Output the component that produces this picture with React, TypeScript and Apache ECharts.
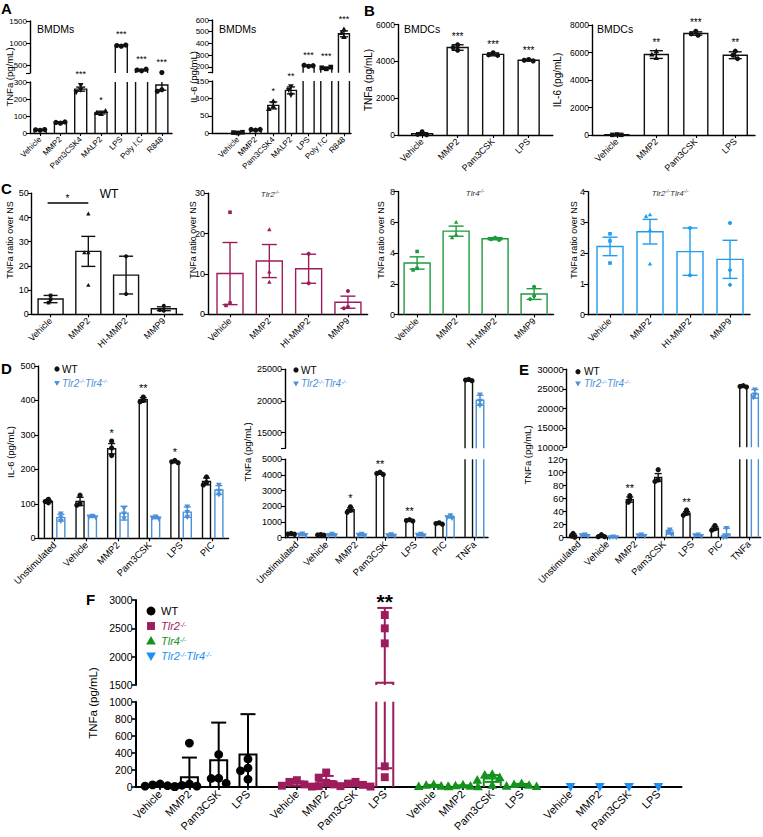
import React, { useEffect, useRef } from 'react';
import * as echarts from 'echarts';

const FONT = "'Liberation Sans', Arial, Helvetica, sans-serif";
const BLACK = '#111111';
const CRIMSON = '#9c1c5c';
const GREEN = '#1e9a3e';
const SKY = '#1f9cf0';
const DKO_BLUE = '#4b90d8';
const F_GREEN = '#14921e';
const F_BLUE = '#1c8ff5';

type Sym = 'circle' | 'square' | 'triangle' | 'down';

// ---------- Panel A ----------
const aCats = ['Vehicle', 'MMP2', 'Pam3CSK4', 'MALP2', 'LPS', 'Poly I:C', 'R848'];
const aTnfMean = [18, 62, 258, 120, 950, 400, 282];
const aTnfErr = [2, 4, 12, 8, 12, 15, 30];
const aTnfPts = [[16, 19, 20], [58, 62, 65], [282, 255, 240], [112, 118, 130], [935, 950, 962], [385, 402, 420], [345, 255, 245]];
const aTnfStars = ['', '', '***', '*', '***', '***', '***'];
const aTnfSyms: Sym[] = ['circle', 'circle', 'down', 'triangle', 'circle', 'circle', 'circle'];
const aTnfTicksLow = [0, 100, 200, 300];
const aTnfTicksHigh = [500, 1000, 1500];
const aIl6Mean = [2, 10, 80, 123, 210, 190, 482];
const aIl6Err = [0.5, 1.5, 10, 10, 4, 6, 25];
const aIl6Pts = [[1, 2, 3], [9, 11, 11], [92, 78, 70], [135, 125, 110], [205, 214, 210], [183, 192, 198], [520, 490, 455]];
const aIl6Stars = ['', '', '*', '**', '***', '***', '***'];
const aIl6Syms: Sym[] = ['square', 'circle', 'triangle', 'down', 'circle', 'square', 'triangle'];
const aIl6TicksLow = [0, 50, 100, 150];
const aIl6TicksHigh = [200, 300, 400, 500, 600];

// ---------- Panel B ----------
const bCats = ['Vehicle', 'MMP2', 'Pam3CSK', 'LPS'];
const bTnfMean = [70, 4750, 4380, 4060];
const bTnfErr = [55, 150, 80, 40];
const bTnfPts = [[180, 30, 10], [4900, 4750, 4600], [4470, 4350, 4320], [4100, 4060, 4020]];
const bTnfStars = ['', '***', '***', '***'];
const bTnfTicks = [0, 2000, 4000, 6000];
const bIl6Mean = [20, 5850, 7380, 5800];
const bIl6Err = [10, 280, 120, 250];
const bIl6Pts = [[40, 10, 10], [6100, 5850, 5600], [7550, 7350, 7250], [6100, 5800, 5550]];
const bIl6Stars = ['', '**', '***', '**'];
const bIl6Ticks = [0, 2000, 4000, 6000, 8000];

// ---------- Panel C ----------
const cCats = ['Vehicle', 'MMP2', 'HI-MMP2', 'MMP9'];
const cSyms: Sym[] = ['square', 'triangle', 'circle', 'circle'];
const cWtMean = [6.3, 26, 16.2, 2.3];
const cWtErr = [1.5, 6.2, 7.8, 0.8];
const cWtPts = [[7.8, 6.2, 4.8], [41.5, 25.5, 25.5, 12], [24, 8.4], [3.5, 1.5, 1.8]];
const cWtTicks = [0, 10, 20, 30, 40, 50];
const cTlr2Mean = [10.1, 13.2, 11.3, 3];
const cTlr2Err = [7.7, 4.1, 3.6, 1.5];
const cTlr2Pts = [[25.3, 2.8, 2.2], [21, 10.5, 8], [15, 7.7], [5.8, 1.8, 1.5]];
const cTlr2Ticks = [0, 10, 20, 30];
const cTlr4Mean = [3.35, 5.42, 4.93, 1.33];
const cTlr4Err = [0.4, 0.33, 0.07, 0.35];
const cTlr4Pts = [[4.1, 3.0, 2.9], [6.0, 5.2, 5.0], [5.0, 4.9, 4.85], [1.8, 1.2, 1.0]];
const cTlr4Ticks = [0, 2, 4, 6, 8];
const cDkoMean = [2.22, 2.7, 2.05, 1.8];
const cDkoErr = [0.3, 0.4, 0.77, 0.62];
const cDkoPts = [[2.63, 2.4, 1.68], [3.25, 3.2, 2.75, 1.65], [2.82, 1.28], [2.98, 1.45, 0.97]];
const cDkoTicks = [0, 1, 2, 3, 4];

// ---------- Panel D ----------
const dCats = ['Unstimulated', 'Vehicle', 'MMP2', 'Pam3CSK', 'LPS', 'PIC'];
const dIl6WtMean = [107, 107, 260, 402, 222, 165];
const dIl6WtErr = [3, 12, 15, 6, 3, 10];
const dIl6WtPts = [[113, 107, 103], [125, 100, 96], [282, 262, 240], [410, 400, 396], [226, 222, 219], [178, 162, 155]];
const dIl6WtStars = ['', '', '*', '**', '*', ''];
const dIl6DkoMean = [60, 63, 73, 60, 76, 140];
const dIl6DkoErr = [10, 2, 20, 3, 15, 13];
const dIl6DkoPts = [[72, 60, 50], [65, 63, 61], [88, 72, 58], [63, 60, 57], [92, 76, 62], [155, 138, 127]];
const dIl6Ticks = [0, 100, 200, 300, 400, 500];
const dTnfCats = ['Unstimulated', 'Vehicle', 'MMP2', 'Pam3CSK', 'LPS', 'PIC', 'TNFa'];
const dTnfWtMean = [240, 180, 1780, 4100, 1100, 900, 23300];
const dTnfWtErr = [30, 20, 120, 60, 30, 25, 100];
const dTnfWtPts = [[270, 230, 220], [200, 180, 160], [1970, 1750, 1620], [4180, 4100, 4030], [1150, 1090, 1060], [950, 900, 860], [23400, 23300, 23200]];
const dTnfWtStars = ['', '', '*', '**', '**', '', ''];
const dTnfDkoMean = [210, 190, 190, 160, 190, 1320, 20100];
const dTnfDkoErr = [50, 60, 60, 50, 60, 60, 800];
const dTnfDkoPts = [[260, 200, 160], [250, 170, 150], [240, 190, 140], [210, 150, 120], [240, 190, 140], [1420, 1300, 1250], [21000, 20000, 19300]];
const dTnfTicksLow = [0, 1000, 2000, 3000, 4000, 5000];
const dTnfTicksHigh = [15000, 20000, 25000];

// ---------- Panel E ----------
const eCats = ['Unstimulated', 'Vehicle', 'MMP2', 'Pam3CSK', 'LPS', 'PIC', 'TNFa'];
const eWtMean = [3, 2, 58, 92, 37, 14, 25600];
const eWtErr = [2, 1, 4, 6, 2.5, 2.5, 150];
const eWtPts = [[6, 2, 0], [4, 1, 1], [64, 58, 54], [104, 88, 86], [42, 37, 34], [18, 13, 11], [25800, 25600, 25450]];
const eWtStars = ['', '', '**', '', '**', '', ''];
const eDkoMean = [3, 0.5, 3, 8, 3, 5, 23700];
const eDkoErr = [1.5, 0.5, 1, 3, 1, 9, 1100];
const eDkoPts = [[4, 3, 2], [1, 0, 0], [4, 3, 2], [12, 8, 5], [4, 3, 2], [14, 1, 0], [24800, 23500, 22800]];
const eTicksLow = [0, 20, 40, 60, 80, 100, 120];
const eTicksHigh = [10000, 15000, 20000, 25000, 30000];

// ---------- Panel F ----------
const fCats = ['Vehicle', 'MMP2', 'Pam3CSK', 'LPS'];
const fWtMean = [20, 115, 315, 380];
const fWtErr = [15, 230, 440, 474];
const fWtPts = [[35, 25, 15, 10, 5], [515, 35, 20, 10, 5], [381, 103, 100, 44], [329, 222, 190, 91]];
const fTlr2Mean = [40, 70, 30, 1540];
const fTlr2Err = [25, 60, 20, 1320];
const fTlr2Pts = [[80, 60, 30, 15, 5], [170, 110, 50, 30, 10], [60, 40, 25, 10, 5], [2735, 2500, 2235, 242, 115]];
const fTlr2Stars = ['', '', '', '**'];
const fTlr4Mean = [15, 12, 100, 22];
const fTlr4Err = [10, 8, 40, 15];
const fTlr4Pts = [[30, 20, 10, 5, 2], [25, 15, 10, 5, 2], [150, 140, 110, 80, 20], [40, 30, 20, 10, 5]];
const fDkoMean = [4, 4, 4, 4];
const fDkoErr = [0, 0, 0, 0];
const fDkoPts = [[5], [5], [5], [5]];
const fTicksLow = [0, 200, 400, 600, 800, 1000];
const fTicksHigh = [1500, 2000, 2500, 3000];

// ---------- types / helpers ----------
interface Seg { min: number; max: number; top: number; height: number; ticks: number[]; labels: number[] }
interface Ser { color: string; means: (number | null)[]; errs: (number | null)[]; pts: (number[] | null)[]; sym: Sym | Sym[]; stars?: (string | null)[]; offset?: number; bar?: boolean }
interface Sig { from: number; to: number; y: number; label: string }
interface Panel {
  left: number; width: number; xMin: number; xMax: number; pos: number[]; labels: string[]; segs: Seg[]; series: Ser[];
  barW: number; capW: number; lw: number; ptR: number; swarmD: number; tickFont: number; xFont: number; starFont: number; starOff: number; starBold?: boolean; sig?: Sig;
}

const idx = (arr: any[]) => arr.map((_, i) => i);
const fLabels = [...fCats, ...fCats, ...fCats, ...fCats];
const fPos = fLabels.map((_, k) => Math.floor(k / 4) * 4.67 + (k % 4));
function place<T>(g: number, arr: T[]): (T | null)[] {
  return fLabels.map((_, k) => (Math.floor(k / 4) === g ? arr[k % 4] : null));
}

function swarm(ys: number[], d: number): number[] {
  const placed: [number, number][] = [];
  return ys.map((y) => {
    let best = 0;
    for (let k = 0; k < 30; k++) {
      const m = Math.ceil(k / 2) * d * 0.5 * (k % 2 ? -1 : 1);
      if (placed.every(([px, py]) => (px - m) ** 2 + (py - y) ** 2 >= d * d * 0.85)) { best = m; break; }
    }
    placed.push([best, y]);
    return best;
  });
}

function symEl(type: Sym, cx: number, cy: number, r: number, color: string): any {
  if (type === 'circle') return { type: 'circle', shape: { cx, cy, r }, style: { fill: color } };
  if (type === 'square') return { type: 'rect', shape: { x: cx - r * 0.9, y: cy - r * 0.9, width: r * 1.8, height: r * 1.8 }, style: { fill: color } };
  if (type === 'triangle') return { type: 'polygon', shape: { points: [[cx, cy - r * 1.15], [cx + r * 1.1, cy + r * 0.8], [cx - r * 1.1, cy + r * 0.8]] }, style: { fill: color } };
  return { type: 'polygon', shape: { points: [[cx, cy + r * 1.15], [cx + r * 1.1, cy - r * 0.8], [cx - r * 1.1, cy - r * 0.8]] }, style: { fill: color } };
}

const ln = (x1: number, y1: number, x2: number, y2: number, color: string, w: number) =>
  ({ type: 'line', shape: { x1, y1, x2, y2 }, style: { stroke: color, lineWidth: w } });

function starText(text: string, x: number, y: number, size: number, bold?: boolean) {
  return {
    type: 'text', x, y,
    style: {
      text, fill: '#000', textFill: '#000', fontSize: size, fontFamily: FONT, fontWeight: bold ? 'bold' : 'normal',
      textAlign: 'center', textVerticalAlign: 'middle',
    },
  };
}

function makeRender(p: Panel, seg: Seg, s: Ser, isTop: boolean) {
  const lw = p.lw;
  return (params: any, api: any) => {
    const ci = api.value(2) as number;
    const mean = s.means[ci] as number;
    const err = (s.errs[ci] as number) || 0;
    const pts = (s.pts[ci] as number[]) || [];
    const xv = p.pos[ci];
    const xc = api.coord([xv, seg.min])[0] + (s.offset || 0);
    const Y = (v: number) => api.coord([xv, v])[1];
    const inSeg = (v: number) => v >= seg.min && v <= seg.max;
    const children: any[] = [];
    const hw = p.barW / 2;
    if (s.bar !== false && mean > seg.min) {
      const yb = Y(seg.min);
      const yt = Y(Math.min(mean, seg.max));
      if (mean <= seg.max) {
        children.push({ type: 'polyline', shape: { points: [[xc - hw, yb], [xc - hw, yt], [xc + hw, yt], [xc + hw, yb]] }, style: { stroke: s.color, lineWidth: lw, fill: null } });
      } else {
        children.push(ln(xc - hw, yb, xc - hw, yt, s.color, lw));
        children.push(ln(xc + hw, yb, xc + hw, yt, s.color, lw));
      }
    }
    if (err > 0) {
      const lo = mean - err, hi = mean + err;
      const a = Math.max(lo, seg.min), b = Math.min(hi, seg.max);
      if (b > a) children.push(ln(xc, Y(a), xc, Y(b), s.color, lw));
      const cw = p.capW / 2;
      if (inSeg(hi)) children.push(ln(xc - cw, Y(hi), xc + cw, Y(hi), s.color, lw));
      if (inSeg(lo) && lo > 0) children.push(ln(xc - cw, Y(lo), xc + cw, Y(lo), s.color, lw));
    }
    const sym = Array.isArray(s.sym) ? s.sym[ci] : s.sym;
    const pys = pts.map(Y);
    const dxs = swarm(pys, p.swarmD);
    pts.forEach((v, j) => {
      if (inSeg(v)) children.push(symEl(sym, xc + dxs[j], pys[j], p.ptR, s.color));
    });
    const star = s.stars ? s.stars[ci] : '';
    if (star) {
      const tv = Math.max(mean + err, ...(pts.length ? pts : [mean]));
      if (inSeg(tv) || (isTop && tv > seg.max)) {
        let topPx = Y(Math.min(mean + err, seg.max));
        pts.forEach((v) => { if (inSeg(v)) topPx = Math.min(topPx, Y(v) - p.ptR); });
        if (tv > seg.max) topPx = Math.min(topPx, Y(seg.max));
        children.push(starText(star, xc, topPx - p.starOff, p.starFont, p.starBold));
      }
    }
    return { type: 'group', children };
  };
}

function labelAt(p: Panel, v: number) {
  let best = 0;
  p.pos.forEach((q, i) => { if (Math.abs(q - v) < Math.abs(p.pos[best] - v)) best = i; });
  return p.labels[best];
}

const PANELS: Panel[] = [
  { // A left
    left: 30, width: 142, xMin: -0.5, xMax: 6.5, pos: idx(aCats), labels: aCats,
    segs: [
      { min: 0, max: 300, top: 82, height: 51, ticks: aTnfTicksLow, labels: aTnfTicksLow },
      { min: 335, max: 1500, top: 21, height: 52, ticks: [335, ...aTnfTicksHigh], labels: aTnfTicksHigh },
    ],
    series: [{ color: BLACK, means: aTnfMean, errs: aTnfErr, pts: aTnfPts, sym: aTnfSyms, stars: aTnfStars }],
    barW: 12, capW: 9, lw: 1.4, ptR: 2.6, swarmD: 4.5, tickFont: 8, xFont: 8, starFont: 9, starOff: 8,
  },
  { // A right
    left: 212, width: 139, xMin: -1.47, xMax: 6.4, pos: idx(aCats), labels: aCats,
    segs: [
      { min: 0, max: 150, top: 81, height: 52.3, ticks: aIl6TicksLow, labels: aIl6TicksLow },
      { min: 150, max: 600, top: 20, height: 52.7, ticks: [150, ...aIl6TicksHigh], labels: aIl6TicksHigh },
    ],
    series: [{ color: BLACK, means: aIl6Mean, errs: aIl6Err, pts: aIl6Pts, sym: aIl6Syms, stars: aIl6Stars }],
    barW: 11, capW: 8, lw: 1.4, ptR: 2.6, swarmD: 4.5, tickFont: 8, xFont: 8, starFont: 9, starOff: 8,
  },
  { // B left
    left: 398, width: 154.8, xMin: -0.68, xMax: 3.68, pos: idx(bCats), labels: bCats,
    segs: [{ min: 0, max: 6000, top: 24.5, height: 110.5, ticks: bTnfTicks, labels: bTnfTicks }],
    series: [{ color: BLACK, means: bTnfMean, errs: bTnfErr, pts: bTnfPts, sym: 'circle', stars: bTnfStars }],
    barW: 21, capW: 12, lw: 1.4, ptR: 2.5, swarmD: 4.5, tickFont: 8.5, xFont: 9, starFont: 10, starOff: 6,
  },
  { // B right
    left: 592, width: 163, xMin: -0.63, xMax: 3.5, pos: idx(bCats), labels: bCats,
    segs: [{ min: 0, max: 8000, top: 25, height: 110, ticks: bIl6Ticks, labels: bIl6Ticks }],
    series: [{ color: BLACK, means: bIl6Mean, errs: bIl6Err, pts: bIl6Pts, sym: ['square', 'triangle', 'circle', 'circle'], stars: bIl6Stars }],
    barW: 24, capW: 13, lw: 1.4, ptR: 2.5, swarmD: 4.5, tickFont: 8.5, xFont: 9, starFont: 10, starOff: 6,
  },
  { // C WT
    left: 31.7, width: 151, xMin: -0.5, xMax: 3.5, pos: idx(cCats), labels: cCats,
    segs: [{ min: 0, max: 50, top: 193.3, height: 121, ticks: cWtTicks, labels: cWtTicks }],
    series: [{ color: BLACK, means: cWtMean, errs: cWtErr, pts: cWtPts, sym: cSyms }],
    barW: 25, capW: 14, lw: 1.4, ptR: 2.0, swarmD: 4, tickFont: 9, xFont: 9, starFont: 9, starOff: 6,
    sig: { from: 0, to: 1, y: 46, label: '*' },
  },
  { // C Tlr2
    left: 208, width: 159.6, xMin: -0.56, xMax: 3.5, pos: idx(cCats), labels: cCats,
    segs: [{ min: 0, max: 30, top: 193.3, height: 121, ticks: cTlr2Ticks, labels: cTlr2Ticks }],
    series: [{ color: CRIMSON, means: cTlr2Mean, errs: cTlr2Err, pts: cTlr2Pts, sym: cSyms }],
    barW: 26, capW: 15, lw: 1.4, ptR: 2.0, swarmD: 4, tickFont: 9, xFont: 9, starFont: 9, starOff: 6,
  },
  { // C Tlr4
    left: 398, width: 155.6, xMin: -0.49, xMax: 3.5, pos: idx(cCats), labels: cCats,
    segs: [{ min: 0, max: 8, top: 191.5, height: 123, ticks: cTlr4Ticks, labels: cTlr4Ticks }],
    series: [{ color: GREEN, means: cTlr4Mean, errs: cTlr4Err, pts: cTlr4Pts, sym: cSyms }],
    barW: 26, capW: 15, lw: 1.4, ptR: 2.0, swarmD: 4, tickFont: 9, xFont: 9, starFont: 9, starOff: 6,
  },
  { // C DKO
    left: 588, width: 162, xMin: -0.55, xMax: 3.5, pos: idx(cCats), labels: cCats,
    segs: [{ min: 0, max: 4, top: 191.7, height: 123, ticks: cDkoTicks, labels: cDkoTicks }],
    series: [{ color: SKY, means: cDkoMean, errs: cDkoErr, pts: cDkoPts, sym: cSyms }],
    barW: 26, capW: 15, lw: 1.4, ptR: 2.0, swarmD: 4, tickFont: 9, xFont: 9, starFont: 9, starOff: 6,
  },
  { // D IL-6
    left: 38.5, width: 190, xMin: -0.51, xMax: 5.5, pos: idx(dCats), labels: dCats,
    segs: [{ min: 0, max: 500, top: 366, height: 172.3, ticks: dIl6Ticks, labels: dIl6Ticks }],
    series: [
      { color: BLACK, means: dIl6WtMean, errs: dIl6WtErr, pts: dIl6WtPts, sym: 'circle', stars: dIl6WtStars, offset: -6.2 },
      { color: DKO_BLUE, means: dIl6DkoMean, errs: dIl6DkoErr, pts: dIl6DkoPts, sym: 'down', offset: 6.2 },
    ],
    barW: 8, capW: 7, lw: 1.4, ptR: 2.6, swarmD: 3.2, tickFont: 9, xFont: 9.5, starFont: 11, starOff: 6,
  },
  { // D TNFa
    left: 285, width: 203, xMin: -0.4, xMax: 6.46, pos: idx(dTnfCats), labels: dTnfCats,
    segs: [
      { min: 0, max: 5000, top: 459.3, height: 78.4, ticks: dTnfTicksLow, labels: dTnfTicksLow },
      { min: 12500, max: 25000, top: 369.3, height: 79, ticks: [12500, ...dTnfTicksHigh], labels: dTnfTicksHigh },
    ],
    series: [
      { color: BLACK, means: dTnfWtMean, errs: dTnfWtErr, pts: dTnfWtPts, sym: 'circle', stars: dTnfWtStars, offset: -5.6 },
      { color: DKO_BLUE, means: dTnfDkoMean, errs: dTnfDkoErr, pts: dTnfDkoPts, sym: 'down', offset: 5.6 },
    ],
    barW: 7.5, capW: 7, lw: 1.4, ptR: 2.6, swarmD: 3.2, tickFont: 9, xFont: 9.5, starFont: 11, starOff: 6,
  },
  { // E
    left: 566.7, width: 194, xMin: -0.43, xMax: 6.41, pos: idx(eCats), labels: eCats,
    segs: [
      { min: 0, max: 120, top: 459.3, height: 78, ticks: eTicksLow, labels: eTicksLow },
      { min: 10000, max: 30000, top: 369.3, height: 78, ticks: eTicksHigh, labels: eTicksHigh },
    ],
    series: [
      { color: BLACK, means: eWtMean, errs: eWtErr, pts: eWtPts, sym: 'circle', stars: eWtStars, offset: -5.8 },
      { color: DKO_BLUE, means: eDkoMean, errs: eDkoErr, pts: eDkoPts, sym: 'down', offset: 5.8 },
    ],
    barW: 7, capW: 7, lw: 1.4, ptR: 2.6, swarmD: 3.2, tickFont: 9.5, xFont: 9.5, starFont: 11, starOff: 5,
  },
  { // F
    left: 135.5, width: 546, xMin: -0.84, xMax: 17.8, pos: fPos, labels: fLabels,
    segs: [
      { min: 0, max: 1000, top: 701.7, height: 85.3, ticks: fTicksLow, labels: fTicksLow },
      { min: 1500, max: 3000, top: 600, height: 85, ticks: fTicksHigh, labels: fTicksHigh },
    ],
    series: [
      { color: '#000', means: place(0, fWtMean), errs: place(0, fWtErr), pts: place(0, fWtPts), sym: 'circle' },
      { color: CRIMSON, means: place(1, fTlr2Mean), errs: place(1, fTlr2Err), pts: place(1, fTlr2Pts), sym: 'square', stars: place(1, fTlr2Stars) },
      { color: F_GREEN, means: place(2, fTlr4Mean), errs: place(2, fTlr4Err), pts: place(2, fTlr4Pts), sym: 'triangle' },
      { color: F_BLUE, means: place(3, fDkoMean), errs: place(3, fDkoErr), pts: place(3, fDkoPts), sym: 'down', bar: false },
    ],
    barW: 17, capW: 15, lw: 2, ptR: 4.4, swarmD: 7.5, tickFont: 10.5, xFont: 11, starFont: 21, starOff: 6, starBold: true,
  },
];

// ---------- graphic helpers ----------
function gText(x: number, y: number, text: string, o: any = {}) {
  return {
    type: 'text', x, y, rotation: o.rot || 0, silent: true,
    style: {
      text, fontSize: o.size || 10, fontFamily: FONT, fontWeight: o.bold ? 'bold' : 'normal', fontStyle: o.italic ? 'italic' : 'normal',
      fill: o.color || '#000', textFill: o.color || '#000', textAlign: o.align || 'left', textVerticalAlign: o.valign || 'middle', rich: o.rich,
    },
  };
}
function koText(x: number, y: number, parts: string[], size: number, color: string, align = 'left') {
  const text = parts.map((t) => `{i|${t}}{s|-/-}`).join('');
  const rich = {
    i: { fontSize: size, fontStyle: 'italic', fontFamily: FONT, fill: color, textFill: color },
    s: { fontSize: size * 0.6, fontStyle: 'italic', fontFamily: FONT, fill: color, textFill: color, verticalAlign: 'top' },
  };
  return gText(x, y, text, { rich, align, color, size });
}
const yName = (x: number, y: number, text: string, size: number) => gText(x, y, text, { rot: Math.PI / 2, align: 'center', size });
function gSym(type: Sym, cx: number, cy: number, r: number, color: string) {
  const el = symEl(type, cx, cy, r, color);
  return { ...el, silent: true };
}

function buildOption() {
  const grid: any[] = [], xAxis: any[] = [], yAxis: any[] = [], series: any[] = [];
  PANELS.forEach((p) => {
    p.segs.forEach((seg, k) => {
      const g = grid.length;
      const isBottom = k === 0, isTop = k === p.segs.length - 1;
      grid.push({ left: p.left, top: seg.top, width: p.width, height: seg.height, containLabel: false, outerBoundsMode: 'none', show: false });
      xAxis.push({
        gridIndex: g, type: 'value', min: p.xMin, max: p.xMax, show: isBottom,
        axisLine: { show: true, onZero: false, lineStyle: { color: '#000', width: p.lw } },
        axisTick: { show: true, customValues: p.pos, length: 3, lineStyle: { color: '#000', width: p.lw * 0.8 } },
        axisLabel: {
          show: true, customValues: p.pos, formatter: (v: number) => labelAt(p, v), rotate: 45,
          fontSize: p.xFont, fontFamily: FONT, color: '#000', margin: 5,
        },
        splitLine: { show: false },
      });
      yAxis.push({
        gridIndex: g, type: 'value', min: seg.min, max: seg.max,
        axisLine: { show: true, onZero: false, lineStyle: { color: '#000', width: p.lw } },
        axisTick: { show: true, customValues: seg.ticks, length: 4, lineStyle: { color: '#000', width: p.lw * 0.8 } },
        axisLabel: { show: true, customValues: seg.labels, formatter: (v: number) => String(v), fontSize: p.tickFont, fontFamily: FONT, color: '#000', margin: 3 },
        splitLine: { show: false },
      });
      p.series.forEach((s) => {
        const data = s.means
          .map((m, ci) => (m == null ? null : [p.pos[ci], Math.min(Math.max(m, seg.min), seg.max), ci]))
          .filter((d) => d != null);
        series.push({
          type: 'custom', coordinateSystem: 'cartesian2d', xAxisIndex: g, yAxisIndex: g, data,
          itemStyle: { color: '#000' },
          encode: { x: 0, y: 1 }, renderItem: makeRender(p, seg, s, isTop), silent: true, z: 3,
        });
      });
      if (p.sig && isTop) {
        const sg = p.sig;
        series.push({
          type: 'custom', coordinateSystem: 'cartesian2d', xAxisIndex: g, yAxisIndex: g,
          data: [[p.pos[sg.from], sg.y]], encode: { x: 0, y: 1 }, silent: true, z: 3,
          itemStyle: { color: '#000' },
          renderItem: (params: any, api: any) => {
            const a = api.coord([p.pos[sg.from], sg.y]);
            const b = api.coord([p.pos[sg.to], sg.y]);
            return {
              type: 'group', children: [
                ln(a[0] - 3, a[1], b[0], b[1], '#000', 1.4),
                starText(sg.label, (a[0] + b[0]) / 2 - 2, a[1] - 4, 10),
              ],
            };
          },
        });
      }
    });
  });

  const elements: any[] = [
    gText(1, 1, 'A', { bold: true, size: 15, valign: 'top' }),
    gText(364, 3, 'B', { bold: true, size: 15, valign: 'top' }),
    gText(1, 181, 'C', { bold: true, size: 15, valign: 'top' }),
    gText(1, 361, 'D', { bold: true, size: 15, valign: 'top' }),
    gText(519, 362, 'E', { bold: true, size: 15, valign: 'top' }),
    gText(86, 592, 'F', { bold: true, size: 15, valign: 'top' }),
    yName(9, 77, 'TNFa (pg/mL)', 9.5),
    yName(193, 77, 'IL-6 (pg/mL)', 9.5),
    yName(368, 80, 'TNFa (pg/mL)', 10),
    yName(557, 80, 'IL-6 (pg/mL)', 10),
    yName(10, 240, 'TNFa ratio over NS', 9),
    yName(193, 240, 'TNFa ratio over NS', 9),
    yName(381, 240, 'TNFa ratio over NS', 9),
    yName(574, 240, 'TNFa ratio over NS', 9),
    yName(10, 452, 'IL-6 (pg/mL)', 9.5),
    yName(247, 452, 'TNFa (pg/mL)', 9.5),
    yName(527, 455, 'TNFa (pg/mL)', 9.5),
    yName(93, 703, 'TNFa (pg/mL)', 11.5),
    gText(37, 29, 'BMDMs', { size: 10.5 }),
    gText(219, 29, 'BMDMs', { size: 10.5 }),
    gText(404, 29, 'BMDCs', { size: 10.5 }),
    gText(597, 29, 'BMDCs', { size: 10.5 }),
    gText(109, 194, 'WT', { size: 12, align: 'center' }),
    koText(270, 194, ['Tlr2'], 8, '#333', 'center'),
    koText(475, 193, ['Tlr4'], 8, '#333', 'center'),
    koText(670, 193, ['Tlr2', 'Tlr4'], 8, '#333', 'center'),
    gSym('circle', 57, 369, 2.6, BLACK), gText(62, 369, 'WT', { size: 10 }),
    gSym('down', 57, 383, 2.6, DKO_BLUE), koText(62, 383, ['Tlr2', 'Tlr4'], 10, DKO_BLUE),
    gSym('circle', 296, 370, 2.6, BLACK), gText(301, 370, 'WT', { size: 10 }),
    gSym('down', 296, 383.5, 2.6, DKO_BLUE), koText(301, 383.5, ['Tlr2', 'Tlr4'], 10, DKO_BLUE),
    gSym('circle', 578, 371.7, 2.6, BLACK), gText(584, 371.7, 'WT', { size: 10 }),
    gSym('down', 578, 383.5, 2.6, DKO_BLUE), koText(584, 383.5, ['Tlr2', 'Tlr4'], 10, DKO_BLUE),
    gSym('circle', 151, 611, 4.4, '#000'), gText(161, 611, 'WT', { size: 11 }),
    gSym('square', 151, 626, 4.4, CRIMSON), koText(161, 626, ['Tlr2'], 11, CRIMSON),
    gSym('triangle', 151, 641, 4.4, F_GREEN), koText(161, 641, ['Tlr4'], 11, F_GREEN),
    gSym('down', 151, 656, 4.4, F_BLUE), koText(161, 656, ['Tlr2', 'Tlr4'], 11, F_BLUE),
  ];

  return {
    animation: false,
    backgroundColor: '#ffffff',
    color: ['#000000'],
    textStyle: { fontFamily: FONT, color: '#000' },
    grid, xAxis, yAxis, series,
    graphic: { elements },
  };
}

export default function App() {
  const ref = useRef<HTMLDivElement>(null);
  useEffect(() => {
    if (!ref.current) return;
    const chart = echarts.init(ref.current, undefined, { renderer: 'svg' });
    chart.setOption(buildOption() as any);
    return () => chart.dispose();
  }, []);
  return <div ref={ref} style={{ position: 'absolute', left: 0, top: 0, width: 763, height: 837 }} />;
}
